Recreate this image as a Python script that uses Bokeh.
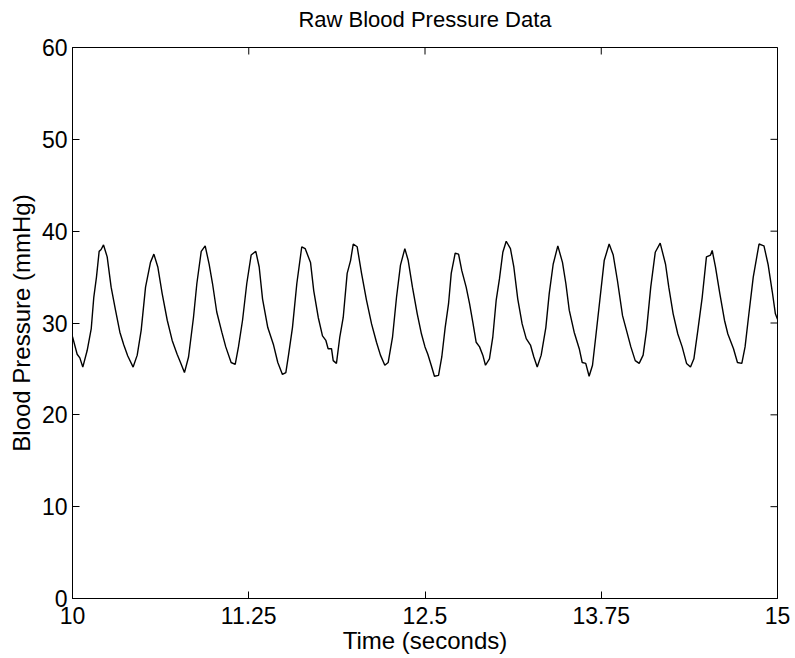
import math
from bokeh.plotting import figure
from bokeh.models import Range1d, FixedTicker, LinearAxis
from bokeh.embed import file_html
from bokeh.resources import INLINE

title_text = "Raw Blood Pressure Data"
x_label = "Time (seconds)"
y_label = "Blood Pressure (mmHg)"

x_ticks = [10, 11.25, 12.5, 13.75, 15]
x_tick_labels = ["10", "11.25", "12.5", "13.75", "15"]
y_ticks = [0, 10, 20, 30, 40, 50, 60]

time_s = [
    10.000, 10.033, 10.052, 10.073, 10.104, 10.133, 10.151, 10.170, 10.189, 10.203,
    10.220, 10.246, 10.274, 10.305, 10.336, 10.364, 10.392, 10.430, 10.459, 10.487,
    10.518, 10.553, 10.577, 10.605, 10.636, 10.672, 10.707, 10.742, 10.766, 10.794,
    10.823, 10.858, 10.882, 10.913, 10.941, 10.969, 10.993, 11.023, 11.059, 11.087,
    11.125, 11.154, 11.177, 11.206, 11.236, 11.267, 11.300, 11.324, 11.348, 11.385,
    11.426, 11.456, 11.489, 11.513, 11.532, 11.560, 11.591, 11.626, 11.650, 11.688,
    11.711, 11.743, 11.773, 11.797, 11.813, 11.837, 11.849, 11.872, 11.896, 11.920,
    11.948, 11.972, 11.991, 12.019, 12.050, 12.085, 12.121, 12.156, 12.184, 12.215,
    12.239, 12.270, 12.298, 12.326, 12.357, 12.381, 12.411, 12.445, 12.475, 12.500,
    12.520, 12.544, 12.567, 12.596, 12.619, 12.643, 12.667, 12.686, 12.714, 12.738,
    12.761, 12.792, 12.816, 12.839, 12.863, 12.887, 12.910, 12.929, 12.957, 12.981,
    13.005, 13.028, 13.052, 13.076, 13.106, 13.130, 13.158, 13.189, 13.218, 13.248,
    13.272, 13.296, 13.324, 13.357, 13.381, 13.409, 13.442, 13.475, 13.499, 13.523,
    13.558, 13.594, 13.615, 13.640, 13.664, 13.688, 13.711, 13.740, 13.771, 13.806,
    13.835, 13.865, 13.901, 13.929, 13.960, 13.991, 14.019, 14.047, 14.071, 14.101,
    14.133, 14.168, 14.206, 14.229, 14.260, 14.293, 14.324, 14.355, 14.383, 14.407,
    14.435, 14.466, 14.496, 14.525, 14.537, 14.560, 14.591, 14.624, 14.648, 14.688,
    14.716, 14.747, 14.770, 14.794, 14.828, 14.869, 14.904, 14.933, 14.963, 14.985,
    15.000,
]

pressure_mmhg = [
    28.5, 26.6, 26.2, 25.2, 27.0, 29.4, 32.8, 35.0, 37.8, 38.0,
    38.5, 37.2, 33.9, 31.4, 29.0, 27.6, 26.4, 25.2, 26.5, 29.2,
    33.9, 36.6, 37.5, 36.1, 33.2, 30.3, 28.1, 26.6, 25.7, 24.6,
    26.3, 30.6, 34.3, 37.8, 38.4, 36.4, 34.3, 31.2, 29.0, 27.4,
    25.7, 25.5, 27.4, 30.3, 34.3, 37.4, 37.8, 36.1, 32.6, 29.5,
    27.6, 25.7, 24.4, 24.6, 26.5, 29.5, 34.3, 38.3, 38.1, 36.6,
    33.5, 30.6, 28.6, 28.1, 27.2, 27.2, 25.9, 25.6, 28.5, 30.6,
    35.4, 36.8, 38.6, 38.3, 35.4, 32.5, 29.9, 27.9, 26.5, 25.4,
    25.7, 28.5, 32.8, 36.3, 38.1, 36.8, 33.9, 31.0, 28.8, 27.4,
    26.6, 25.4, 24.2, 24.3, 26.3, 29.5, 32.1, 35.4, 37.6, 37.5,
    35.7, 33.9, 32.1, 30.1, 27.9, 27.4, 26.5, 25.4, 26.1, 28.5,
    32.5, 34.8, 37.7, 38.9, 38.1, 36.1, 32.6, 29.9, 28.3, 27.6,
    26.3, 25.2, 26.5, 29.5, 33.2, 36.4, 38.4, 36.6, 34.3, 31.4,
    29.0, 27.2, 25.7, 25.6, 24.2, 25.4, 28.5, 32.5, 36.8, 38.6,
    37.4, 34.6, 30.8, 29.2, 27.4, 25.9, 25.6, 26.5, 29.2, 33.9,
    37.7, 38.7, 36.4, 33.9, 31.0, 28.8, 27.4, 25.6, 25.2, 26.1,
    29.2, 32.8, 37.2, 37.4, 37.9, 36.1, 33.2, 30.3, 28.8, 27.2,
    25.7, 25.6, 27.4, 30.6, 35.0, 38.6, 38.4, 36.4, 33.4, 31.0,
    30.4,
]

FONT = "Liberation Sans"
X_MIN, X_MAX = 10, 15
Y_MIN, Y_MAX = 0, 60

p = figure(
    width=795, height=658,
    x_range=Range1d(X_MIN, X_MAX), y_range=Range1d(Y_MIN, Y_MAX),
    output_backend="svg", toolbar_location=None,
    min_border_left=72, min_border_right=18,
    min_border_top=47, min_border_bottom=60,
)

p.xgrid.visible = False
p.ygrid.visible = False
p.outline_line_color = "black"
p.outline_line_width = 1
p.background_fill_color = "white"
p.border_fill_color = "white"

p.line(time_s, pressure_mmhg, line_color="black", line_width=1.4)

# inward ticks on the top and right edges of the box (clipped to the frame)
p.scatter(x=x_ticks, y=[Y_MAX] * len(x_ticks), marker="dash", size=14,
          angle=math.pi / 2, line_color="black", line_width=1)
p.scatter(x=[X_MAX] * len(y_ticks), y=y_ticks, marker="dash", size=14,
          angle=0, line_color="black", line_width=1)

# title: carried by a tick-less axis above the box
title_axis = LinearAxis(ticker=FixedTicker(ticks=[]))
title_axis.axis_line_color = None
title_axis.major_tick_line_color = None
title_axis.minor_tick_line_color = None
title_axis.major_tick_out = 0
title_axis.major_tick_in = 0
title_axis.major_label_standoff = 0
title_axis.axis_label = title_text
title_axis.axis_label_standoff = 16
title_axis.axis_label_text_font = FONT
title_axis.axis_label_text_font_size = "22px"
title_axis.axis_label_text_font_style = "normal"
title_axis.axis_label_text_color = "black"
p.add_layout(title_axis, "above")

overrides = {t: lab for t, lab in zip(x_ticks, x_tick_labels)}

def style(ax):
    ax.axis_line_color = "black"
    ax.axis_line_width = 1
    ax.major_tick_in = 7
    ax.major_tick_out = 0
    ax.minor_tick_line_color = None
    ax.major_tick_line_color = "black"
    ax.major_label_text_font = FONT
    ax.major_label_text_font_size = "23px"
    ax.major_label_text_color = "black"
    ax.axis_label_text_font = FONT
    ax.axis_label_text_font_size = "24px"
    ax.axis_label_text_font_style = "normal"
    ax.axis_label_text_color = "black"

bottom_axis = p.below[0]
left_axis = p.left[0]

style(bottom_axis)
bottom_axis.ticker = FixedTicker(ticks=x_ticks)
bottom_axis.major_label_overrides = overrides
bottom_axis.axis_label = x_label
bottom_axis.major_label_standoff = 8
bottom_axis.axis_label_standoff = 0

style(left_axis)
left_axis.ticker = FixedTicker(ticks=y_ticks)
left_axis.axis_label = y_label
left_axis.major_label_standoff = 5
left_axis.axis_label_standoff = 4

open("out.html", "w").write(file_html(p, INLINE))
